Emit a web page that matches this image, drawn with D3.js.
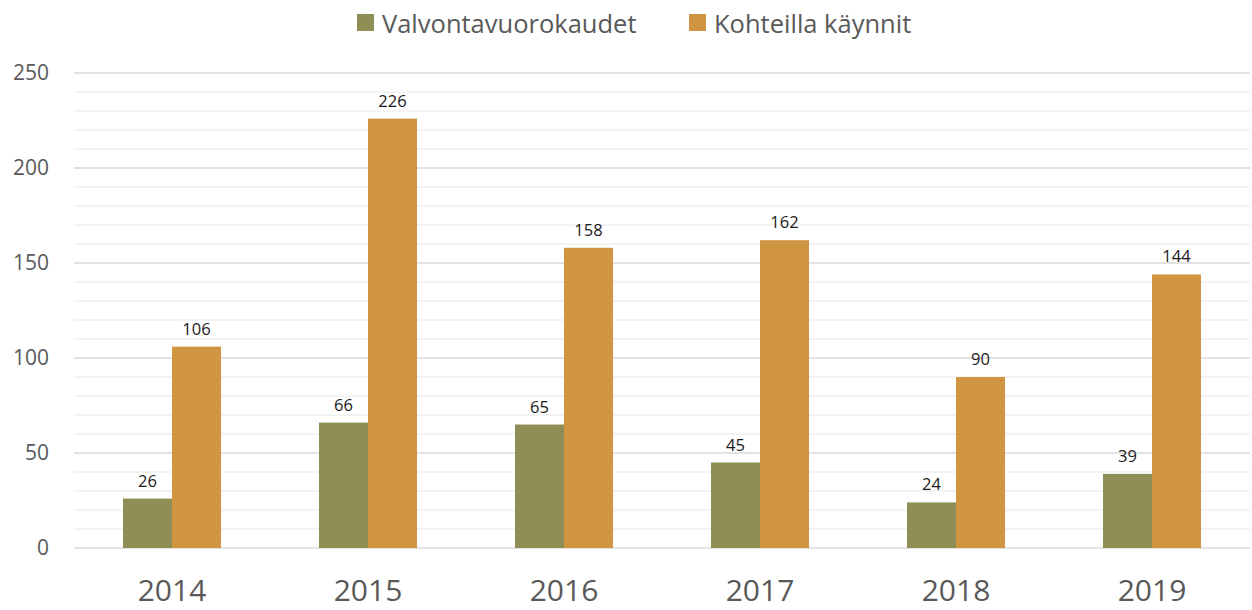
<!DOCTYPE html>
<html><head><meta charset="utf-8">
<script src="https://cdn.jsdelivr.net/npm/d3@7/dist/d3.min.js"></script>
<style>body{margin:0;background:#fff;} text{font-family:"Open Sans","Noto Sans",sans-serif;}</style>
</head><body>
<svg id="c" width="1252" height="610"></svg>
<script>
const categories = ["2014","2015","2016","2017","2018","2019"];
const seriesNames = ["Valvontavuorokaudet","Kohteilla käynnit"];
const valvonta = [26,66,65,45,24,39];
const kaynnit = [106,226,158,162,90,144];
const yTicks = [0,50,100,150,200,250];
const colors = ["#8F8F55","#D09540"];

const svg = d3.select("#c");
const m = {l:74, r:1250, t:73, b:548};
const x = d3.scaleBand().domain(categories).range([m.l, m.r]).paddingInner(0.5).paddingOuter(0.25);
const xs = d3.scaleBand().domain([0,1]).range([0, x.bandwidth()]);
const y = d3.scaleLinear().domain([0,250]).range([m.b, m.t]);

// minor grid
svg.append("g").selectAll("line").data(d3.range(0,251,10).filter(v=>v%50!==0)).join("line")
  .attr("x1",m.l).attr("x2",m.r).attr("y1",d=>y(d)).attr("y2",d=>y(d))
  .attr("stroke","#efefef").attr("stroke-width",1.5);
// major grid
svg.append("g").selectAll("line").data(yTicks).join("line")
  .attr("x1",m.l).attr("x2",m.r).attr("y1",d=>y(d)).attr("y2",d=>y(d))
  .attr("stroke","#d9d9d9").attr("stroke-width",1.5);

// y axis labels
const ya = svg.append("g").attr("transform",`translate(${m.l-25},0)`)
  .call(d3.axisLeft(y).tickValues(yTicks).tickSize(0).tickPadding(0));
ya.select(".domain").remove();
ya.selectAll("text").attr("font-size",21).attr("fill","#595959").style("font-family","'Open Sans',sans-serif");

// x axis labels
const xa = svg.append("g").attr("transform",`translate(0,${m.b+24})`)
  .call(d3.axisBottom(x).tickSize(0).tickPadding(8));
xa.select(".domain").remove();
xa.selectAll("text").attr("font-size",30).attr("fill","#595959").style("font-family","'Open Sans',sans-serif");

const data = [valvonta, kaynnit];
data.forEach((vals,si)=>{
  const g = svg.append("g");
  g.selectAll("rect").data(vals).join("rect")
    .attr("x",(d,i)=>x(categories[i])+xs(si)).attr("width",xs.bandwidth())
    .attr("y",d=>y(d)).attr("height",d=>y(0)-y(d)).attr("fill",colors[si]);
  g.selectAll("text").data(vals).join("text")
    .attr("x",(d,i)=>x(categories[i])+xs(si)+xs.bandwidth()/2)
    .attr("y",d=>y(d)-12).attr("text-anchor","middle")
    .attr("font-size",16.5).attr("fill","#1a1a1a").text(d=>d);
});

// legend
const lg = svg.append("g");
const lx = [357, 689];
seriesNames.forEach((n,i)=>{
  lg.append("rect").attr("x",lx[i]).attr("y",14).attr("width",17).attr("height",17).attr("fill",colors[i]);
  lg.append("text").attr("x",lx[i]+25).attr("y",33).attr("font-size",25.5).attr("fill","#595959").text(n);
});
</script>
</body></html>
